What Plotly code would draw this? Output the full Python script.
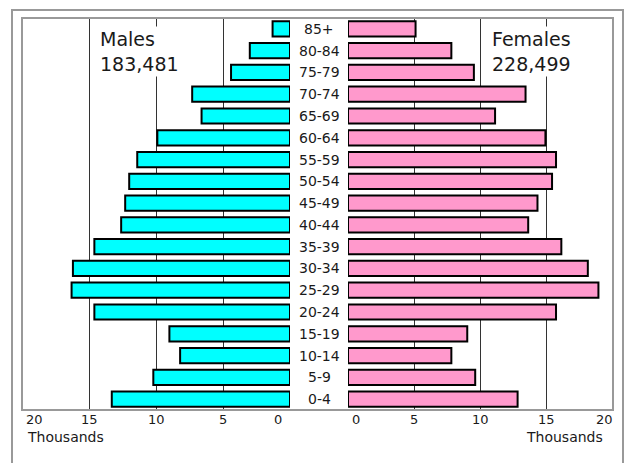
import plotly.graph_objects as go

W, H = 627, 463

ages = ['0-4', '5-9', '10-14', '15-19', '20-24', '25-29', '30-34', '35-39', '40-44',
        '45-49', '50-54', '55-59', '60-64', '65-69', '70-74', '75-79', '80-84', '85+']
males = [13.3, 10.2, 8.2, 9.0, 14.6, 16.3, 16.2, 14.6, 12.6,
         12.3, 12.0, 11.4, 9.9, 6.6, 7.3, 4.4, 3.0, 1.3]
females = [12.8, 9.6, 7.8, 9.0, 15.7, 18.9, 18.1, 16.1, 13.6,
           14.3, 15.4, 15.7, 14.9, 11.1, 13.4, 9.5, 7.8, 5.1]
tick_vals = [0, 5, 10, 15, 20]
male_total = "183,481"
female_total = "228,499"

FONT = "DejaVu Sans"
TXT = "#1a1a1a"

def px(x):
    return x / W

def py(y):
    return 1 - y / H

ydom = [py(410), py(18)]

fig = go.Figure()
fig.add_trace(go.Bar(y=ages, x=males, orientation='h', xaxis='x', yaxis='y',
                     marker=dict(color='#00FFFF', line=dict(color='#000000', width=2)),
                     hoverinfo='skip'))
fig.add_trace(go.Bar(y=ages, x=females, orientation='h', xaxis='x2', yaxis='y',
                     marker=dict(color='#FF99CC', line=dict(color='#000000', width=2)),
                     hoverinfo='skip'))

annotations = []
# age labels in center
for a in ages:
    annotations.append(dict(x=px(319), xref='paper', y=a, yref='y', text=a, showarrow=False,
                            font=dict(family=FONT, size=14, color=TXT), xanchor='center', yanchor='middle'))
# tick labels
left_shift = {20: 12, 0: -12}
right_shift = {0: 8, 20: -9}
for v in tick_vals:
    annotations.append(dict(x=v, xref='x', y=py(419), yref='paper', text=str(v), showarrow=False,
                            xshift=left_shift.get(v, 0),
                            font=dict(family=FONT, size=13, color=TXT), xanchor='center', yanchor='middle'))
    annotations.append(dict(x=v, xref='x2', y=py(419), yref='paper', text=str(v), showarrow=False,
                            xshift=right_shift.get(v, 0),
                            font=dict(family=FONT, size=13, color=TXT), xanchor='center', yanchor='middle'))
annotations.append(dict(x=px(25), xref='paper', y=py(437), yref='paper', text='Thousands', showarrow=False,
                        font=dict(family=FONT, size=14, color=TXT), xanchor='left', yanchor='middle'))
annotations.append(dict(x=px(605), xref='paper', y=py(437), yref='paper', text='Thousands', showarrow=False,
                        font=dict(family=FONT, size=14, color=TXT), xanchor='right', yanchor='middle'))
annotations.append(dict(x=px(98), xref='paper', y=py(51.5), yref='paper', text='Males<br>' + male_total,
                        showarrow=False, align='left', bgcolor='white',
                        font=dict(family=FONT, size=19, color=TXT), xanchor='left', yanchor='middle'))
annotations.append(dict(x=px(490), xref='paper', y=py(51.5), yref='paper', text='Females<br>' + female_total,
                        showarrow=False, align='left', bgcolor='white',
                        font=dict(family=FONT, size=19, color=TXT), xanchor='left', yanchor='middle'))

shapes = [
    dict(type='rect', xref='paper', yref='paper', x0=px(22), x1=px(613), y0=py(410), y1=py(18),
         line=dict(color='#999999', width=2), layer='above'),
    dict(type='rect', xref='paper', yref='paper', x0=px(12), x1=px(623), y0=py(475), y1=py(10),
         line=dict(color='#999999', width=2), layer='above'),
]

grid = dict(showgrid=True, gridcolor='#333333', gridwidth=1, tickvals=[5, 10, 15],
            showticklabels=False, zeroline=False, showline=False, ticks='', fixedrange=True)

fig.update_layout(
    width=W, height=H, margin=dict(l=0, r=0, t=0, b=0),
    paper_bgcolor='white', plot_bgcolor='white',
    showlegend=False, bargap=0.3,
    xaxis=dict(domain=[px(22), px(290)], range=[20, 0], anchor='y', **grid),
    xaxis2=dict(domain=[px(348), px(613)], range=[0, 20], anchor='y', **grid),
    yaxis=dict(domain=ydom, range=[-0.5, 17.5], showgrid=False, showticklabels=False,
               zeroline=False, showline=False, ticks='', anchor='x', fixedrange=True),
    annotations=annotations, shapes=shapes,
)

fig.write_html("out.html", config={'displayModeBar': False},
               post_script="document.body.style.margin='0';document.body.style.overflow='hidden';")
